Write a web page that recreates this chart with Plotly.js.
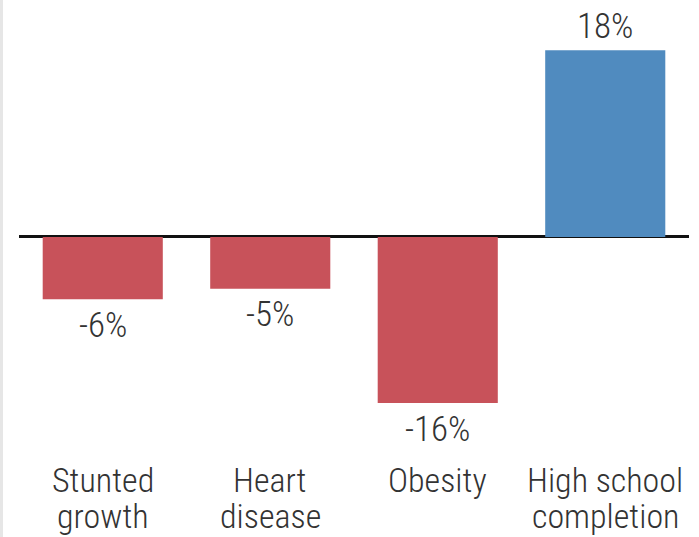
<!DOCTYPE html>
<html>
<head>
<meta charset="utf-8">
<script src="https://cdn.plot.ly/plotly-3.0.1.min.js"></script>
<style>html,body{margin:0;padding:0;background:#fff;}#chart{width:699px;height:537px;}</style>
</head>
<body>
<div id="chart"></div>
<script>
var categories = ["Stunted growth", "Heart disease", "Obesity", "High school completion"];
var labelLine1 = ["Stunted", "Heart", "Obesity", "High school"];
var labelLine2 = ["growth", "disease", "", "completion"];
var values = [-6, -5, -16, 18];
var valueLabels = ["-6%", "-5%", "-16%", "18%"];
var barColors = ["#C8525A", "#C8525A", "#C8525A", "#508BBF"];

var FONT = "Roboto Condensed, Liberation Sans Narrow, sans-serif";
var TEXT_COLOR = "#333333";

var annotations = [];
values.forEach(function (v, i) {
  annotations.push({
    x: categories[i], y: v, xref: "x", yref: "y",
    text: valueLabels[i], showarrow: false,
    yanchor: "middle",
    yshift: v >= 0 ? 24 : -26,
    font: {family: FONT, size: 35, color: TEXT_COLOR, weight: 300}
  });
});
categories.forEach(function (c, i) {
  [labelLine1[i], labelLine2[i]].forEach(function (t, j) {
    if (!t) return;
    annotations.push({
      x: c, y: 0, xref: "x", yref: "paper",
      text: t, showarrow: false,
      yanchor: "middle",
      yshift: j === 0 ? -30 : -66,
      font: {family: FONT, size: 34, color: TEXT_COLOR, weight: 300}
    });
  });
});

var data = [{
  type: "bar",
  x: categories,
  y: values,
  marker: {color: barColors, line: {width: 0}},
  hoverinfo: "none"
}];

var layout = {
  width: 699, height: 537,
  margin: {l: 19, r: 10, t: 0, b: 87},
  paper_bgcolor: "#ffffff", plot_bgcolor: "#ffffff",
  bargap: 0.283,
  showlegend: false,
  xaxis: {
    type: "category",
    range: [-0.5, 3.5],
    showgrid: false, zeroline: false, showline: false,
    ticks: "", showticklabels: false
  },
  yaxis: {
    range: [-20.53, 22.84],
    showgrid: false, showticklabels: false, ticks: "",
    zeroline: true, zerolinecolor: "#111111", zerolinewidth: 3
  },
  annotations: annotations,
  shapes: [{
    type: "rect", xref: "paper", yref: "paper",
    xsizemode: "pixel", ysizemode: "pixel",
    xanchor: 0, yanchor: 0,
    x0: -19, x1: -16, y0: -87, y1: 450,
    fillcolor: "#e6e6e6", line: {width: 0}, layer: "below"
  }]
};

Plotly.newPlot("chart", data, layout, {displayModeBar: false, staticPlot: true});
</script>
</body>
</html>
